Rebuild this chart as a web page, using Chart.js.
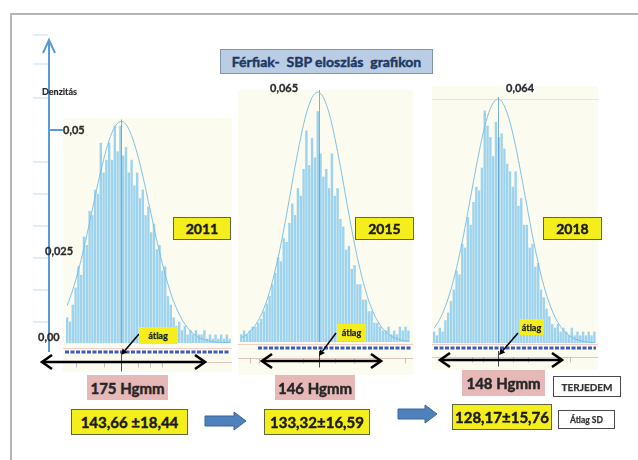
<!DOCTYPE html>
<html>
<head>
<meta charset="utf-8">
<script src="https://cdn.jsdelivr.net/npm/chart.js@4.4.1/dist/chart.umd.min.js"></script>
<style>
  html, body { margin: 0; padding: 0; background: #fff; }
  #stage { position: relative; width: 638px; height: 460px; overflow: hidden; font-family: Lato, "Open Sans", sans-serif; }
  .frame { position: absolute; left: 10px; top: 13px; width: 700px; height: 500px; border-left: 2px solid #b5b5b5; border-top: 2px solid #b5b5b5; }
  .panel { position: absolute; background: #fbfbef; }
  .panel canvas { display: block; }
  .box { position: absolute; box-sizing: border-box; display: flex; align-items: center; justify-content: center; font-weight: 700; white-space: nowrap; z-index: 5; -webkit-text-stroke: 0.45px currentColor; }
  .small { -webkit-text-stroke: 0.25px currentColor; }
  .yellow { background: #f4ee1c; border: 1.5px solid #5f6640; color: #1b1b1b; }
  .pink { background: #e6b9b8; color: #262626; }
  .plain { background: #fff; border: 1.5px solid #4a4a4a; color: #333; }
  .lbl { position: absolute; font-weight: 700; white-space: nowrap; z-index: 5; color: #2a2a2a; -webkit-text-stroke: 0.3px currentColor; }
  svg#overlay { position: absolute; left: 0; top: 0; z-index: 4; pointer-events: none; }
</style>
</head>
<body>
<div id="stage">
  <div class="frame"></div>

  <div class="panel" id="p2011" style="left:63px;top:118px;width:169px;height:254px;"><canvas id="c2011" width="169" height="254"></canvas></div>
  <div class="panel" id="p2015" style="left:238px;top:90px;width:175px;height:285px;"><canvas id="c2015" width="175" height="285"></canvas></div>
  <div class="panel" id="p2018" style="left:432px;top:86px;width:166px;height:284px;"><canvas id="c2018" width="166" height="284"></canvas></div>

  <svg id="overlay" width="638" height="460"></svg>

  <div class="box" id="title" style="left:220px;top:49px;width:213px;height:25px;background:#b9cde5;border:1.5px solid #8094ad;color:#1f3864;font-size:14px;"></div>

  <div class="lbl" id="ylabel" style="left:42px;top:86px;font-size:9px;-webkit-text-stroke:0.2px #2a2a2a;"></div>
  <div class="lbl" id="tick0" style="left:63px;top:123px;font-size:11px;"></div>
  <div class="lbl" id="tick1" style="left:45px;top:244px;font-size:11px;"></div>
  <div class="lbl" id="tick2" style="left:38px;top:330px;font-size:11px;"></div>
  <div class="lbl" id="peak2015" style="left:270px;top:81px;font-size:11px;"></div>
  <div class="lbl" id="peak2018" style="left:505px;top:81px;font-size:11px;background:#fff;padding:0 1px;"></div>

  <div class="box yellow" id="y2011" style="left:173px;top:217px;width:58px;height:23px;font-size:14px;"></div>
  <div class="box yellow" id="y2015" style="left:355px;top:217px;width:59px;height:23px;font-size:14px;"></div>
  <div class="box yellow" id="y2018" style="left:543px;top:217px;width:59px;height:23px;font-size:14px;"></div>

  <div class="box yellow small" id="m2011" style="left:139px;top:327px;width:38px;height:17px;font-size:9px;border:none;"></div>
  <div class="box yellow small" id="m2015" style="left:337px;top:324px;width:29px;height:17px;font-size:9px;border:none;"></div>
  <div class="box yellow small" id="m2018" style="left:519px;top:319px;width:25px;height:16px;font-size:9px;border:none;"></div>

  <div class="box pink" id="r2011" style="left:87px;top:375px;width:81px;height:25px;font-size:15px;"></div>
  <div class="box pink" id="r2015" style="left:275px;top:375px;width:80px;height:25px;font-size:15px;"></div>
  <div class="box pink" id="r2018" style="left:462px;top:370px;width:83px;height:26px;font-size:15px;"></div>
  <div class="box plain small" id="rangeTag" style="left:553px;top:376px;width:68px;height:21px;font-size:10px;"></div>

  <div class="box yellow" id="s2011" style="left:71px;top:409px;width:117px;height:26px;font-size:15px;"></div>
  <div class="box yellow" id="s2015" style="left:264px;top:409px;width:106px;height:26px;font-size:15px;"></div>
  <div class="box yellow" id="s2018" style="left:452px;top:404px;width:100px;height:26px;font-size:15px;"></div>
  <div class="box plain small" id="sdTag" style="left:558px;top:410px;width:57px;height:19px;font-size:8.5px;"></div>
</div>

<script>
// ---- texts ----
const titleText = 'Férfiak-\u00a0 SBP eloszlás\u00a0 grafikon';
const axisTitle = 'Denzitás';
const densityTicks = ['0,05', '0,025', '0,00'];
const years = ['2011', '2015', '2018'];
const meanText = 'átlag';
const rangeLabels = ['175 Hgmm', '146 Hgmm', '148 Hgmm'];
const statLabels = ['143,66 ±18,44', '133,32±16,59', '128,17±15,76'];
const peakLabels = ['0,065', '0,064'];
const rangeTag = 'TERJEDEM';
const sdTag = 'Átlag SD';

// ---- summary statistics (mmHg) ----
const means = [143.66, 133.32, 128.17];
const peakDensity = [0.05, 0.065, 0.064];

// ---- histogram bins (SBP, mmHg, bin centres) ----
const sbp2011 = [86,89,92,95,98,101,104,107,110,113,116,119,122,125,128,131,134,137,140,143,146,149,152,155,158,161,164,167,170,173,176,179,182,185,188,191,194,197,200,203,206,209,212,215,218,221,224,227,230,233,236,239,242,245,248,251,254,257,260];
const sbp2015 = [51,54,57,60,63,66,69,72,75,78,81,84,87,90,93,96,99,102,105,108,111,114,117,120,123,126,129,132,135,138,141,144,147,150,153,156,159,162,165,168,171,174,177,180,183,186,189,192,195,198,201,204,207,210,213,216,219,222,225,228];
const sbp2018 = [60,63,66,69,72,75,78,81,84,87,90,93,96,99,102,105,108,111,114,117,120,123,126,129,132,135,138,141,144,147,150,153,156,159,162,165,168,171,174,177,180,183,186,189,192,195,198,201,204,207,210,213,216,219,222,225,228,231];

// ---- histogram densities ----
const dens2011 = [0.006,0.005,0.009,0.013,0.018,0.016,0.025,0.023,0.031,0.030,0.036,0.035,0.047,0.040,0.043,0.047,0.043,0.051,0.045,0.051,0.044,0.046,0.040,0.043,0.037,0.040,0.034,0.036,0.030,0.032,0.026,0.028,0.022,0.023,0.017,0.018,0.011,0.009,0.006,0.004,0.005,0.003,0.004,0.002,0.003,0.002,0.003,0.002,0.002,0.003,0.001,0.002,0.001,0.002,0.001,0.002,0.001,0.002,0.001];
const dens2015 = [0.002,0.003,0.002,0.003,0.004,0.004,0.005,0.006,0.008,0.010,0.012,0.015,0.018,0.022,0.021,0.027,0.026,0.031,0.036,0.033,0.040,0.038,0.045,0.055,0.046,0.053,0.048,0.060,0.049,0.043,0.045,0.040,0.049,0.038,0.040,0.032,0.030,0.024,0.025,0.019,0.020,0.015,0.015,0.011,0.011,0.008,0.008,0.005,0.005,0.004,0.003,0.003,0.004,0.002,0.003,0.002,0.004,0.003,0.004,0.003];
const dens2018 = [0.003,0.002,0.004,0.003,0.006,0.008,0.011,0.014,0.019,0.018,0.026,0.025,0.033,0.031,0.037,0.041,0.040,0.046,0.061,0.057,0.054,0.049,0.058,0.054,0.055,0.051,0.047,0.045,0.041,0.045,0.036,0.038,0.031,0.031,0.025,0.026,0.020,0.021,0.014,0.012,0.009,0.007,0.005,0.004,0.005,0.003,0.004,0.003,0.002,0.004,0.002,0.003,0.002,0.003,0.002,0.003,0.002,0.003];

// ---- fitted normal curves, read at the bin centres ----
const fit2011 = [0.0088,0.0106,0.0125,0.0147,0.0171,0.0196,0.0224,0.0253,0.0283,0.0314,0.0344,0.0375,0.0403,0.0430,0.0455,0.0476,0.0494,0.0507,0.0516,0.0520,0.0519,0.0513,0.0502,0.0487,0.0468,0.0445,0.0420,0.0392,0.0363,0.0332,0.0302,0.0271,0.0241,0.0213,0.0186,0.0161,0.0138,0.0117,0.0098,0.0082,0.0068,0.0055,0.0045,0.0036,0.0028,0.0022,0.0017,0.0013,0.0010,0.0008,0.0006,0.0004,0.0003,0.0002,0.0002,0.0001,0.0001,0.0001,0.0001];
const fit2015 = [0.0011,0.0015,0.0020,0.0027,0.0034,0.0044,0.0056,0.0070,0.0088,0.0107,0.0131,0.0157,0.0187,0.0219,0.0254,0.0292,0.0332,0.0373,0.0415,0.0456,0.0495,0.0532,0.0566,0.0595,0.0618,0.0636,0.0646,0.0650,0.0646,0.0636,0.0618,0.0595,0.0566,0.0532,0.0495,0.0456,0.0415,0.0373,0.0332,0.0292,0.0254,0.0219,0.0187,0.0157,0.0131,0.0107,0.0088,0.0070,0.0056,0.0044,0.0034,0.0027,0.0020,0.0015,0.0011,0.0008,0.0006,0.0004,0.0003,0.0002];
const fit2018 = [0.0039,0.0050,0.0062,0.0078,0.0096,0.0117,0.0141,0.0168,0.0198,0.0231,0.0266,0.0304,0.0344,0.0384,0.0424,0.0464,0.0501,0.0536,0.0568,0.0594,0.0615,0.0630,0.0638,0.0640,0.0634,0.0622,0.0603,0.0579,0.0549,0.0516,0.0479,0.0440,0.0400,0.0360,0.0320,0.0281,0.0245,0.0211,0.0179,0.0151,0.0126,0.0104,0.0085,0.0068,0.0054,0.0043,0.0033,0.0026,0.0020,0.0015,0.0011,0.0008,0.0006,0.0004,0.0003,0.0002,0.0001,0.0001];

// ---- put the texts in place ----
const setText = (id, t) => { document.getElementById(id).textContent = t; };
setText('title', titleText);
setText('ylabel', axisTitle);
setText('tick0', densityTicks[0]);
setText('tick1', densityTicks[1]);
setText('tick2', densityTicks[2]);
setText('peak2015', peakLabels[0]);
setText('peak2018', peakLabels[1]);
['2011','2015','2018'].forEach((y, i) => {
  setText('y' + y, years[i]);
  setText('m' + y, meanText);
  setText('r' + y, rangeLabels[i]);
  setText('s' + y, statLabels[i]);
});
setText('rangeTag', rangeTag);
setText('sdTag', sdTag);

// ---- decorations under each histogram: dotted baseline, axis line, mean line ----
const panelDecor = {
  id: 'panelDecor',
  afterDatasetsDraw(chart, args, o) {
    const { ctx, chartArea } = chart;
    const xs = chart.scales.x, ys = chart.scales.y;
    const y0 = ys.getPixelForValue(0);
    const xm = Math.round(xs.getPixelForValue(o.mean)) + 0.5;
    ctx.save();
    if (o.peakLine) {
      const yp = Math.round(ys.getPixelForValue(o.peak)) + 0.5;
      ctx.strokeStyle = 'rgba(170,215,240,0.45)';
      ctx.lineWidth = 1;
      ctx.beginPath(); ctx.moveTo(chartArea.left, yp); ctx.lineTo(chartArea.right, yp); ctx.stroke();
    }
    // mean line through the plot
    ctx.strokeStyle = 'rgba(90,150,205,0.75)';
    ctx.lineWidth = 1;
    ctx.beginPath(); ctx.moveTo(xm, ys.getPixelForValue(o.peak) - 2); ctx.lineTo(xm, y0); ctx.stroke();
    // faint red rule and blue dotted band
    const yd = y0 + o.dashOffset;
    ctx.strokeStyle = 'rgba(230,150,150,0.45)';
    ctx.beginPath(); ctx.moveTo(chartArea.left, yd - 3.5); ctx.lineTo(chartArea.right, yd - 3.5); ctx.stroke();
    ctx.strokeStyle = '#3d5cbc';
    ctx.lineWidth = 3;
    ctx.setLineDash([4, 1.5]);
    ctx.beginPath(); ctx.moveTo(chartArea.left + o.dashStart, yd); ctx.lineTo(chartArea.right - 2, yd); ctx.stroke();
    ctx.setLineDash([]);
    // axis line
    const ya = Math.round(y0 + o.axisOffset) + 0.5;
    ctx.strokeStyle = 'rgba(215,175,165,0.7)';
    ctx.lineWidth = 1;
    ctx.beginPath(); ctx.moveTo(chartArea.left, ya); ctx.lineTo(chartArea.right, ya); ctx.stroke();
    ctx.strokeStyle = 'rgba(140,140,140,0.5)';
    o.ticks.forEach(v => {
      const xt = Math.round(xs.getPixelForValue(v)) + 0.5;
      ctx.beginPath(); ctx.moveTo(xt, ya); ctx.lineTo(xt, ya + 5); ctx.stroke();
    });
    // mean marker below the axis
    ctx.strokeStyle = '#4a4a4a';
    ctx.beginPath(); ctx.moveTo(xm, yd + 3); ctx.lineTo(xm, ya + 9); ctx.stroke();
    ctx.restore();
  }
};

function histogram(id, bins, dens, fit, xMin, xMax, yMin, yMax, decor) {
  const bars = bins.map((b, i) => ({ x: b, y: dens[i] }));
  const curve = bins.map((b, i) => ({ x: b, y: fit[i] }));
  return new Chart(document.getElementById(id), {
    type: 'bar',
    data: {
      datasets: [
        { type: 'line', data: curve, borderColor: 'rgba(120,190,228,0.95)', borderWidth: 1, pointRadius: 0, tension: 0.35, order: 0 },
        { type: 'bar', data: bars, backgroundColor: '#9ed3ef', borderWidth: 0, barPercentage: 0.86, categoryPercentage: 1, order: 1 }
      ]
    },
    options: {
      responsive: false,
      devicePixelRatio: 1,
      animation: false,
      layout: { padding: 0 },
      plugins: { legend: { display: false }, tooltip: { enabled: false }, panelDecor: decor },
      scales: {
        x: { type: 'linear', min: xMin, max: xMax, display: false, offset: false },
        y: { min: yMin, max: yMax, display: false }
      }
    },
    plugins: [panelDecor]
  });
}

histogram('c2011', sbp2011, dens2011, fit2011, 81.5, 262.6, -0.00681, 0.05282,
  { mean: means[0], peak: 0.052, dashOffset: 9, dashStart: 2, axisOffset: 19, ticks: [95, 125, 162, 175, 188], peakLine: false });
histogram('c2015', sbp2015, dens2015, fit2015, 47.55, 232.85, -0.00858, 0.06552,
  { mean: means[1], peak: peakDensity[1], dashOffset: 6, dashStart: 20, axisOffset: 16, ticks: [60, 70, 116, 150, 170, 224], peakLine: false });
histogram('c2018', sbp2018, dens2018, fit2018, 57.71, 234.9, -0.00708, 0.06742,
  { mean: means[2], peak: peakDensity[2], dashOffset: 5, dashStart: 2, axisOffset: 14, ticks: [100, 112, 144, 160, 205], peakLine: true });

// ---- vector overlay: density axis, range arrows, pointers, flow arrows ----
const svg = document.getElementById('overlay');
const NS = 'http://www.w3.org/2000/svg';
function el(tag, attrs) {
  const e = document.createElementNS(NS, tag);
  for (const k in attrs) e.setAttribute(k, attrs[k]);
  svg.appendChild(e);
  return e;
}
// faint scale strokes left of the density axis
[35, 64, 98, 162, 194, 226, 258, 290, 322].forEach(y =>
  el('line', { x1: 33, y1: y, x2: 48, y2: y, stroke: '#dde7f1', 'stroke-width': 1.5 }));
el('line', { x1: 49, y1: 41, x2: 49, y2: 352, stroke: '#5b9bd5', 'stroke-width': 2 });
el('polyline', { points: '43,53 49,40 55,53', fill: 'none', stroke: '#5b9bd5', 'stroke-width': 2 });
el('line', { x1: 49, y1: 130, x2: 63, y2: 130, stroke: '#5b9bd5', 'stroke-width': 2 });

// range arrows (min to max)
function rangeArrow(x1, x2, y) {
  el('line', { x1: x1 + 1, y1: y, x2: x2 - 1, y2: y, stroke: '#000', 'stroke-width': 2.6 });
  el('polyline', { points: `${x1 + 10},${y - 7} ${x1},${y} ${x1 + 10},${y + 7}`, fill: 'none', stroke: '#000', 'stroke-width': 2.6 });
  el('polyline', { points: `${x2 - 10},${y - 7} ${x2},${y} ${x2 - 10},${y + 7}`, fill: 'none', stroke: '#000', 'stroke-width': 2.6 });
}
rangeArrow(42, 205, 362);
rangeArrow(262, 381, 361);
rangeArrow(440, 562, 360);

// pointers from the mean tags
function pointer(x1, y1, x2, y2) {
  const a = Math.atan2(y2 - y1, x2 - x1), L = 6, W = 3;
  const bx = x2 - L * Math.cos(a), by = y2 - L * Math.sin(a);
  el('line', { x1, y1, x2: bx, y2: by, stroke: '#000', 'stroke-width': 1.5 });
  el('polygon', { points: `${x2},${y2} ${bx - W * Math.sin(a)},${by + W * Math.cos(a)} ${bx + W * Math.sin(a)},${by - W * Math.cos(a)}`, fill: '#000' });
}
pointer(139, 334, 121, 355);
pointer(336, 333, 319, 356);
pointer(518, 333, 499, 355);

// block arrows between the years
function blockArrow(x1, x2, yc) {
  const h = 5, H = 9, head = 12;
  el('polygon', {
    points: `${x1},${yc - h} ${x2 - head},${yc - h} ${x2 - head},${yc - H} ${x2},${yc} ${x2 - head},${yc + H} ${x2 - head},${yc + h} ${x1},${yc + h}`,
    fill: '#4f81bd', stroke: '#3a6598', 'stroke-width': 1
  });
}
blockArrow(205, 246, 421);
blockArrow(398, 437, 414);
</script>
</body>
</html>
